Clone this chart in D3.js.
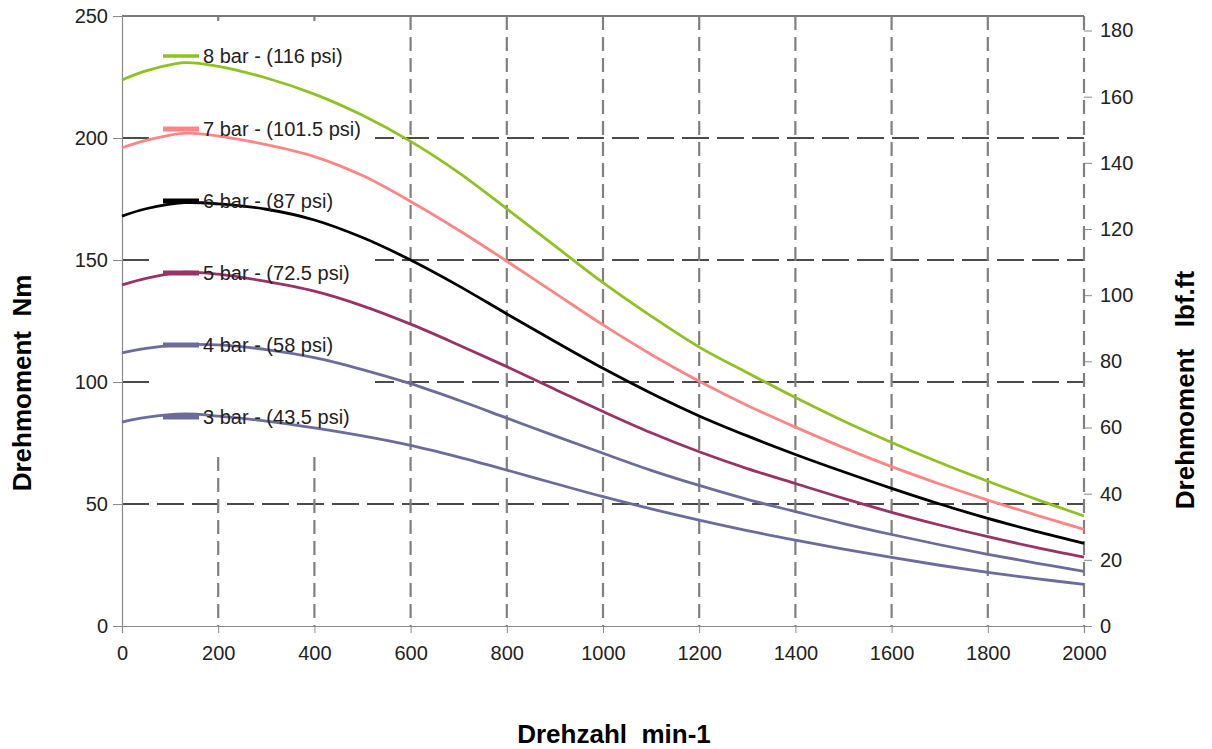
<!DOCTYPE html>
<html><head><meta charset="utf-8">
<script src="https://cdn.jsdelivr.net/npm/d3@7"></script>
<style>
html,body{margin:0;padding:0;background:#fff;}
svg{display:block;font-family:"Liberation Sans",Arial,sans-serif;}
text{white-space:pre;}
</style></head>
<body><svg id="chart" width="1212" height="749"></svg>
<script>
const rpm = [0,50,130,200,300,400,500,600,700,800,900,1000,1100,1200,1300,1400,1500,1600,1700,1800,1900,2000];
const bar8 = [223.8,227.5,230.9,229.4,224.6,218,209.3,198.6,185.8,171,155.8,140.7,127,114.3,103.8,93.6,84,75.2,67,59.3,52,45.1];
const bar7 = [196,199,202,200.8,197.3,192.4,184.6,174,162.2,149.5,136.4,123.4,111.3,100.3,90.4,81.5,73.1,65.3,58.2,51.6,45.5,39.6];
const bar6 = [168,171,173.5,173,170.8,166.4,159.2,150,139.4,127.9,116.6,105.6,95.4,86.1,77.9,70.3,63.2,56.4,50,44.1,38.8,33.9];
const bar5 = [139.8,142.5,145,144.2,141.2,137.2,131.2,123.7,115.2,106.3,97,87.9,79.2,71.4,64.5,58.4,52.3,46.6,41.4,36.6,32.2,28.2];
const bar4 = [111.9,113.8,115.3,115.2,113.3,110,105.1,99.3,92.5,85.2,77.9,70.8,63.8,57.6,51.9,46.9,42,37.5,33.3,29.4,25.8,22.4];
const bar3 = [83.6,85.5,86.9,86,84,81.2,77.9,74,69.2,63.9,58.4,53,48,43.4,39.1,35.2,31.5,28.1,24.9,22,19.4,17.1];
const seriesNames = ["8 bar - (116 psi)","7 bar - (101.5 psi)","6 bar - (87 psi)","5 bar - (72.5 psi)","4 bar - (58 psi)","3 bar - (43.5 psi)"];
const seriesColors = ["#8dc21f","#ff8585","#000000","#993366","#6b6b9e","#6b6b9e"];
const xTicks = [0,200,400,600,800,1000,1200,1400,1600,1800,2000];
const yTicks = [0,50,100,150,200,250];
const yRightTicks = [0,20,40,60,80,100,120,140,160,180];
const NM_TO_LBFFT = 0.73756;

const seriesVals = [bar8,bar7,bar6,bar5,bar4,bar3];
const svg = d3.select("#chart");
const L = 122, R = 1084, T = 16, B = 626;
const x = d3.scaleLinear().domain([0,2000]).range([L,R]);
const y = d3.scaleLinear().domain([0,250]).range([B,T]);
const y2 = d3.scaleLinear().domain([0,250*NM_TO_LBFFT]).range([B,T]);

// horizontal gridlines
svg.append("g").selectAll("line").data([50,100,150,200]).join("line")
  .attr("x1",L).attr("x2",R).attr("y1",d=>y(d)).attr("y2",d=>y(d))
  .attr("stroke","#111").attr("stroke-width",1.3).attr("stroke-dasharray","27,8");
// vertical gridlines
svg.append("g").selectAll("line").data(xTicks.filter(d=>d>0)).join("line")
  .attr("x1",d=>x(d)).attr("x2",d=>x(d)).attr("y1",T).attr("y2",B)
  .attr("stroke","#808080").attr("stroke-width",2.2).attr("stroke-dasharray","14,7");

// legend background
svg.append("rect").attr("x",150).attr("y",21).attr("width",225).attr("height",432).attr("fill","#fff");

// top frame
svg.append("line").attr("x1",L).attr("x2",R).attr("y1",T).attr("y2",T).attr("stroke","#7a7a7a").attr("stroke-width",2);

const fs = "20px";
const ff = "Liberation Sans, Arial, sans-serif";
// left axis
const gL = svg.append("g").attr("transform",`translate(${L},0)`)
  .call(d3.axisLeft(y).tickValues(yTicks).tickSize(9).tickPadding(5));
gL.select(".domain").attr("stroke","#8a8a8a").attr("stroke-width",1.2);
gL.selectAll(".tick line").attr("stroke","#8a8a8a");
gL.selectAll("text").attr("font-size",fs).attr("fill","#222").attr("font-family",ff);
// bottom axis
const gB = svg.append("g").attr("transform",`translate(0,${B})`)
  .call(d3.axisBottom(x).tickValues(xTicks).tickSize(7).tickPadding(13).tickFormat(d3.format("d")));
gB.select(".domain").attr("stroke","#8a8a8a").attr("stroke-width",1.2);
gB.selectAll(".tick line").attr("stroke","#8a8a8a");
gB.selectAll("text").attr("font-size",fs).attr("fill","#222").attr("font-family",ff);
// right axis
const gR = svg.append("g").attr("transform",`translate(${R},0)`)
  .call(d3.axisRight(y2).tickValues(yRightTicks).tickSize(8).tickPadding(8));
gR.select(".domain").attr("stroke","none");
gR.selectAll(".tick line").attr("stroke","#8a8a8a");
gR.selectAll("text").attr("font-size",fs).attr("fill","#222").attr("font-family",ff);

// curves
const line = d3.line().x(d=>x(d[0])).y(d=>y(d[1])).curve(d3.curveCatmullRom.alpha(0.5));
seriesVals.forEach((vals,i)=>{
  svg.append("path").datum(rpm.map((r,j)=>[r,vals[j]]))
    .attr("d",line).attr("fill","none").attr("stroke",seriesColors[i]).attr("stroke-width",2.8);
});

// legend
const legY = [56,129,201,273,345,417];
seriesNames.forEach((n,i)=>{
  svg.append("line").attr("x1",163).attr("x2",199).attr("y1",legY[i]).attr("y2",legY[i])
    .attr("stroke",seriesColors[i]).attr("stroke-width",i===0?3.5:5);
  svg.append("text").attr("x",203).attr("y",legY[i]).attr("dy","0.35em")
    .attr("font-size",fs).attr("fill","#222").text(n);
});

// axis titles
svg.append("text").attr("transform","translate(31,383) rotate(-90)").attr("text-anchor","middle")
  .attr("font-size","26px").attr("font-weight","bold").attr("fill","#000").text("Drehmoment  Nm");
svg.append("text").attr("transform","translate(1194,390) rotate(-90)").attr("text-anchor","middle")
  .attr("font-size","26px").attr("font-weight","bold").attr("fill","#000").text("Drehmoment   lbf.ft");
svg.append("text").attr("x",614).attr("y",743).attr("text-anchor","middle")
  .attr("font-size","26px").attr("font-weight","bold").attr("fill","#000").text("Drehzahl  min-1");
</script></body></html>
